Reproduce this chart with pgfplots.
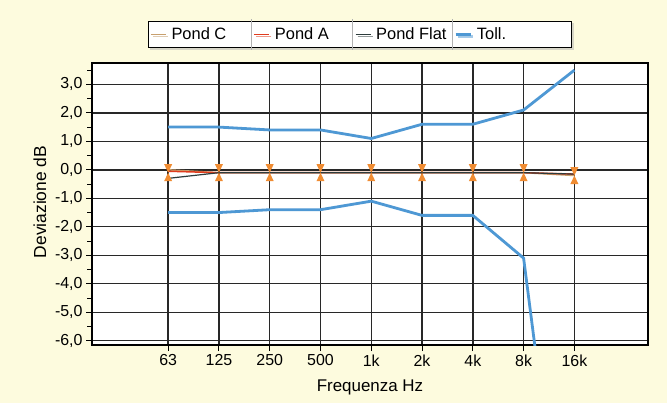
\documentclass[border=0pt]{standalone}
\usepackage{pgfplots}
\pgfplotsset{compat=1.18}
\usepackage{fontspec}
\setmainfont{Liberation Sans}
\usetikzlibrary{shadows}
\definecolor{bgcream}{RGB}{253,251,222}
\definecolor{tollblue}{RGB}{78,152,212}
\definecolor{pondC}{RGB}{200,160,110}
\definecolor{pondA}{RGB}{225,60,30}
\definecolor{pondF}{RGB}{45,60,60}
\definecolor{mkorange}{RGB}{240,140,50}
\definecolor{gridgray}{RGB}{40,40,40}
\pgfdeclareplotmark{bowtie}{%
  \pgfpathmoveto{\pgfqpoint{-4bp}{8.5bp}}\pgfpathlineto{\pgfqpoint{4bp}{8.5bp}}\pgfpathlineto{\pgfqpoint{0bp}{0bp}}\pgfpathclose
  \pgfpathmoveto{\pgfqpoint{-4bp}{-8.5bp}}\pgfpathlineto{\pgfqpoint{4bp}{-8.5bp}}\pgfpathlineto{\pgfqpoint{0bp}{0bp}}\pgfpathclose
  \pgfusepathqfill}
\newcommand{\sep}{\smash{\textcolor{gray!60}{\rule[-10bp]{0.6bp}{31bp}}}}
\begin{document}
\begin{tikzpicture}[x=1bp,y=1bp]
\fill[bgcream] (0,0) rectangle (667,403);
\begin{axis}[
  at={(92bp,58bp)}, anchor=south west,
  scale only axis, width=556bp, height=282bp,
  xmin=-1.5, xmax=9.45, ymin=-6.15, ymax=3.75,
  xtick={0,...,8}, xticklabels={63,125,250,500,1k,2k,4k,8k,16k},
  ytick={-6,...,3},
  yticklabels={{-6,0},{-5,0},{-4,0},{-3,0},{-2,0},{-1,0},{0,0},{1,0},{2,0},{3,0}},
  minor ytick={-5.5,-4.5,...,3.5},
  xtick pos=bottom, ytick pos=left,
  tick align=outside, major tick length=6bp, minor tick length=5bp,
  tick style={black, line width=1bp},
  grid=major, major grid style={gridgray, line width=1.4bp},
  axis line style={black, line width=1.6bp},
  axis background/.style={fill=white},
  ticklabel style={font=\fontsize{16}{18}\selectfont},
  xlabel={Frequenza Hz},
  xlabel style={font=\fontsize{17}{19}\selectfont, at={(axis description cs:0.5,-0.149)}, anchor=center},
  ylabel={Deviazione dB},
  ylabel style={font=\fontsize{17.5}{19}\selectfont, at={(axis description cs:-0.0935,0.507)}, anchor=center},
  legend columns=4,
  legend image code/.code={\draw[#1] (0bp,0bp) -- (15bp,0bp);},
  legend style={at={(axis description cs:0.482,1.053)}, anchor=south,
    draw=black, line width=1bp, fill=white, inner ysep=4.5bp, inner xsep=2bp,
    drop shadow={shadow xshift=2bp, shadow yshift=-2bp, fill=gray!60},
    font=\fontsize{16.5}{18}\selectfont,
    /tikz/every even column/.append style={column sep=0bp}},
]
\addplot[pondC, line width=1.5bp] coordinates {(0,0.0) (1,-0.1) (2,-0.1) (3,-0.1) (4,-0.1) (5,-0.1) (6,-0.1) (7,-0.1) (8,-0.2)};
\addlegendentry{\makebox[83bp][l]{\hspace{3bp}Pond C\hfill\sep}}
\addplot[pondA, line width=1.5bp] coordinates {(0,-0.05) (1,-0.1) (2,-0.1) (3,-0.1) (4,-0.1) (5,-0.1) (6,-0.1) (7,-0.1) (8,-0.15)};
\addlegendentry{\makebox[81bp][l]{\hspace{3bp}Pond A\hfill\sep}}
\addplot[pondF, line width=1.2bp] coordinates {(0,-0.3) (1,-0.1) (2,-0.1) (3,-0.1) (4,-0.1) (5,-0.1) (6,-0.1) (7,-0.1) (8,-0.15)};
\addlegendentry{\makebox[79bp][l]{\hspace{3bp}Pond Flat\hfill\sep}}
\addplot[tollblue, line width=2.8bp] coordinates {(0,1.5) (1,1.5) (2,1.4) (3,1.4) (4,1.1) (5,1.6) (6,1.6) (7,2.1) (8,3.5)};
\addlegendentry{\makebox[94bp][l]{\hspace{3bp}Toll.}}
\addplot[tollblue, line width=2.8bp, forget plot] coordinates {(0,-1.5) (1,-1.5) (2,-1.4) (3,-1.4) (4,-1.1) (5,-1.6) (6,-1.6) (7,-3.1) (8,-17)};
\addplot[only marks, mark=bowtie, mark options={fill=mkorange}, forget plot] coordinates {(0,-0.1) (1,-0.1) (2,-0.1) (3,-0.1) (4,-0.1) (5,-0.1) (6,-0.1) (7,-0.1) (8,-0.2)};
\end{axis}
\end{tikzpicture}
\end{document}
